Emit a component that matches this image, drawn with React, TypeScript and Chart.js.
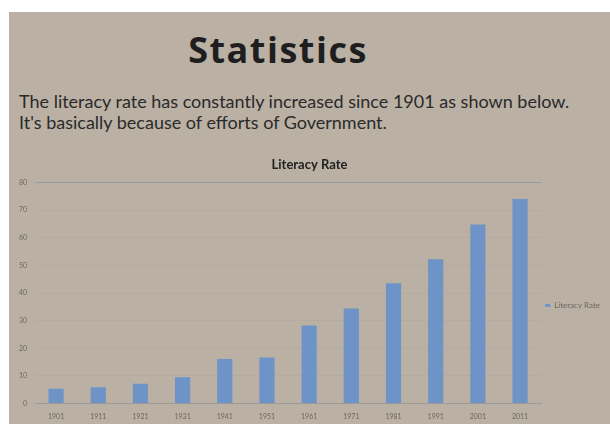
import React, { useEffect, useRef } from "react";
import { Chart, registerables } from "chart.js";

Chart.register(...registerables);

const years = ["1901", "1911", "1921", "1931", "1941", "1951", "1961", "1971", "1981", "1991", "2001", "2011"];
const literacyRate = [5.35, 5.92, 7.16, 9.5, 16.1, 16.67, 28.3, 34.45, 43.57, 52.21, 64.84, 74.04];
const yTicks = [0, 10, 20, 30, 40, 50, 60, 70, 80];
const seriesName = "Literacy Rate";
const chartTitle = "Literacy Rate";
const slideTitle = "Statistics";
const slideText = [
  "The literacy rate has constantly increased since 1901 as shown below.",
  "It's basically because of efforts of Government.",
];

const legendShift = {
  id: "legendShift",
  afterLayout(chart: any) {
    if (chart.legend) {
      chart.legend.top += 14;
      chart.legend.bottom += 14;
    }
  },
};

export default function App() {
  const ref = useRef<HTMLCanvasElement | null>(null);

  useEffect(() => {
    if (!ref.current) return;
    const chart = new Chart(ref.current, {
      type: "bar",
      data: {
        labels: years,
        datasets: [
          {
            label: seriesName,
            data: literacyRate,
            backgroundColor: "#6e93c6",
            borderWidth: 0,
            barPercentage: 0.9,
            categoryPercentage: 0.4,
          },
        ],
      },
      options: {
        animation: false,
        responsive: false,
        maintainAspectRatio: false,
        layout: { padding: { left: 0, right: 0, top: 2, bottom: 0 } },
        plugins: {
          title: {
            display: true,
            text: chartTitle,
            color: "#222",
            font: { family: "Lato", size: 13, weight: "bold" },
            padding: { top: 4, bottom: 10 },
          },
          legend: {
            display: true,
            position: "right",
            labels: {
              boxWidth: 5,
              boxHeight: 3,
              color: "#6d6860",
              font: { family: "Lato", size: 8 },
              padding: 4,
            },
          },
          tooltip: { enabled: false },
        },
        scales: {
          x: {
            grid: { display: false, drawTicks: false },
            border: { display: true, color: "#9c9a98" },
            ticks: { color: "#6d6860", font: { family: "Lato", size: 7 }, padding: 9 },
          },
          y: {
            min: 0,
            max: 80,
            afterBuildTicks: (axis: any) => {
              axis.ticks = yTicks.map((v) => ({ value: v }));
            },
            afterFit: (axis: any) => {
              axis.width = 26;
            },
            grid: {
              drawTicks: false,
              color: (ctx: any) => (ctx.tick && ctx.tick.value === 80 ? "#969ba4" : "rgba(160,155,150,0.25)"),
            },
            border: { display: false },
            ticks: { color: "#6d6860", font: { family: "Lato", size: 7 }, padding: 8 },
          },
        },
      },
      plugins: [legendShift],
    });
    return () => chart.destroy();
  }, []);

  return (
    <div style={{ position: "fixed", left: 0, top: 0, width: 610, height: 424, background: "#fff", overflow: "hidden" }}>
      <div style={{ position: "absolute", left: 9, top: 12, width: 601, height: 412, background: "#bab0a4", overflow: "hidden" }}>
        <div
          style={{
            position: "absolute",
            left: 0,
            width: 538,
            top: 16,
            textAlign: "center",
            fontFamily: "Open Sans",
            fontWeight: "bold",
            fontSize: 36,
            letterSpacing: 1.5,
            lineHeight: "44px",
            color: "#1e1e1e",
          }}
        >
          {slideTitle}
        </div>
        <div
          style={{
            position: "absolute",
            left: 10,
            top: 79,
            fontFamily: "Lato",
            fontSize: 18,
            lineHeight: "21px",
            color: "#2a2a2a",
            whiteSpace: "nowrap",
          }}
        >
          {slideText.map((t, i) => (
            <div key={i}>{t}</div>
          ))}
        </div>
        <canvas ref={ref} width={601} height={279} style={{ position: "absolute", left: 0, top: 139, width: 601, height: 279 }} />
      </div>
    </div>
  );
}
